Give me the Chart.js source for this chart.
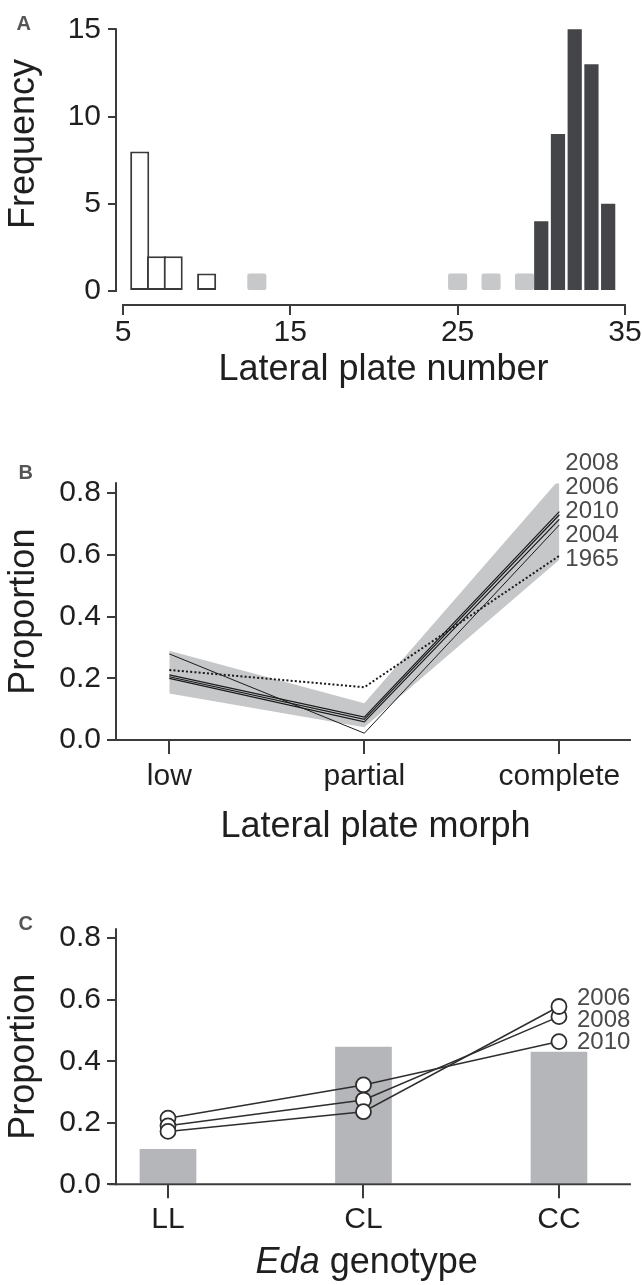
<!DOCTYPE html>
<html><head><meta charset="utf-8">
<script src="https://cdn.jsdelivr.net/npm/chart.js@4.4.1/dist/chart.umd.min.js"></script>
<style>
html,body{margin:0;padding:0;background:#fff;}
body{width:642px;height:1285px;overflow:hidden;position:relative;}
canvas{position:absolute;left:0;}
#cA{top:-25px} #cB{top:440px} #cC{top:880px}
</style></head><body>
<canvas id="cA" width="660" height="420"></canvas>
<canvas id="cB" width="660" height="420"></canvas>
<canvas id="cC" width="660" height="405"></canvas>
<script>
// ---------- Panel A : histogram of lateral plate number ----------
const plateLow = [6, 7, 8, 10];
const freqLow = [8, 2, 2, 1];
const plateMid = [13, 25, 27, 29];
const freqMid = [1, 1, 1, 1];
const plateHigh = [30, 31, 32, 33, 34];
const freqHigh = [4, 9, 15, 13, 5];
const xTicksA = [5, 15, 25, 35];
const yTicksA = [0, 5, 10, 15];

// ---------- Panel B : morph proportions by year ----------
const morphs = ['low', 'partial', 'complete'];
const yearsB = ['2008', '2006', '2010', '2004', '1965'];
const prop2008 = [0.211, 0.074, 0.740];
const prop2006 = [0.205, 0.067, 0.730];
const prop2010 = [0.200, 0.059, 0.715];
const prop2004 = [0.279, 0.022, 0.697];
const prop1965 = [0.227, 0.171, 0.597];
const bandLower = [0.151, 0.041, 0.584];
const bandUpper = [0.289, 0.119, 0.845];
const yTicksB = [0, 0.2, 0.4, 0.6, 0.8];

// ---------- Panel C : Eda genotype proportions ----------
const genotypes = ['LL', 'CL', 'CC'];
const genoBars = [0.115, 0.447, 0.431];
const geno2006 = [0.172, 0.236, 0.578];
const geno2008 = [0.190, 0.274, 0.545];
const geno2010 = [0.215, 0.323, 0.464];
const yearsC = ['2006', '2008', '2010'];
const yTicksC = [0, 0.2, 0.4, 0.6, 0.8];

const AXIS = '#3b3b3b', TXT = '#1f1f1f';
Chart.defaults.font.family = '"Liberation Sans", Arial, Helvetica, sans-serif';
Chart.defaults.color = TXT;

const xy = (xs, ys) => xs.map((x, i) => ({x: x, y: ys[i]}));
const idx = arr => arr.map((_, i) => i);

const rPlugin = {
  id: 'rstyle',
  afterDraw(chart, args, o) {
    const ctx = chart.ctx, xs = chart.scales.x, ys = chart.scales.y, ca = chart.chartArea;
    ctx.save();
    ctx.strokeStyle = AXIS; ctx.lineWidth = 2; ctx.lineCap = 'butt';
    ctx.beginPath();
    ctx.moveTo(ca.left, ys.getPixelForValue(o.yFrom) + 1);
    ctx.lineTo(ca.left, ys.getPixelForValue(o.yTo) - 1);
    ctx.stroke();
    ctx.beginPath();
    ctx.moveTo(xs.getPixelForValue(o.xFrom) - 1, ca.bottom);
    ctx.lineTo(xs.getPixelForValue(o.xTo) + 1, ca.bottom);
    ctx.stroke();
    if (o.letter) {
      ctx.fillStyle = '#555';
      ctx.font = 'bold 20px "Liberation Sans", Arial, sans-serif';
      ctx.textAlign = 'left'; ctx.textBaseline = 'middle';
      ctx.fillText(o.letter.text, o.letter.x, o.letter.y);
    }
    if (o.years) {
      const y0 = ys.getPixelForValue(o.years.yValue);
      const x0 = xs.getPixelForValue(o.years.xValue) + o.years.dx;
      ctx.fillStyle = '#4a4a4a';
      ctx.font = '24px "Liberation Sans", Arial, sans-serif';
      ctx.textAlign = 'left'; ctx.textBaseline = 'middle';
      o.years.items.forEach((t, i) => ctx.fillText(t, x0, y0 + i * o.years.step));
    }
    if (o.xTitle) {
      const f1 = 'italic 36px "Liberation Sans", Arial, sans-serif';
      const f2 = '36px "Liberation Sans", Arial, sans-serif';
      ctx.font = f1; const w1 = ctx.measureText(o.xTitle.parts[0]).width;
      ctx.font = f2; const w2 = ctx.measureText(o.xTitle.parts[1]).width;
      let x = o.xTitle.x - (w1 + w2) / 2;
      ctx.fillStyle = TXT; ctx.textAlign = 'left'; ctx.textBaseline = 'middle';
      ctx.font = f1; ctx.fillText(o.xTitle.parts[0], x, o.xTitle.y);
      ctx.font = f2; ctx.fillText(o.xTitle.parts[1], x + w1, o.xTitle.y);
    }
    ctx.restore();
  }
};

function gridOpts(tl) {
  return {display: true, drawOnChartArea: false, drawTicks: true, tickLength: tl,
          color: AXIS, lineWidth: 2, tickWidth: 2, offset: false};
}
const setTicks = vals => s => { s.ticks = vals.map(v => ({value: v})); };
const fitX = h => s => { s.height = h; s.paddingLeft = 0; s.paddingRight = 0; };
const fitY = w => s => { s.width = w; s.paddingTop = 0; s.paddingBottom = 0; };
const common = {responsive: false, animation: false, devicePixelRatio: 1, events: []};

// ---------- Chart A ----------
new Chart(document.getElementById('cA'), {
  type: 'bar',
  data: {datasets: [
    {data: xy(plateLow, freqLow), backgroundColor: '#ffffff', borderColor: '#3a3a3c', borderWidth: 2,
     borderSkipped: false, barPercentage: 1.14, categoryPercentage: 1, grouped: false},
    {data: xy(plateMid, freqMid), backgroundColor: '#c7c8ca', borderWidth: 0, borderRadius: 2,
     borderSkipped: false, barPercentage: 1.14, categoryPercentage: 1, grouped: false},
    {data: xy(plateHigh, freqHigh), backgroundColor: '#444548', borderWidth: 0,
     barPercentage: 0.85, categoryPercentage: 1, grouped: false}
  ]},
  options: Object.assign({}, common, {
    layout: {padding: {top: 8, right: 9, bottom: 0, left: 0}},
    plugins: {legend: {display: false}, tooltip: {enabled: false},
      rstyle: {yFrom: 0, yTo: 15, xFrom: 5, xTo: 35, letter: {text: 'A', x: 16.5, y: 49.8}}},
    scales: {
      x: {type: 'linear', min: 4.582, max: 36.56, offset: false,
          afterBuildTicks: setTicks(xTicksA), afterFit: fitX(90),
          grid: gridOpts(10), border: {display: false},
          ticks: {font: {size: 30}, color: TXT, padding: 0, maxRotation: 0, autoSkip: false},
          title: {display: true, text: 'Lateral plate number', color: TXT,
                  font: {size: 36, lineHeight: 1}, padding: {top: 0, bottom: 6.5}}},
      y: {type: 'linear', min: -0.8, max: 17.65,
          afterBuildTicks: setTicks(yTicksA), afterFit: fitY(116),
          grid: gridOpts(8), border: {display: false},
          ticks: {font: {size: 30}, color: TXT, padding: 7, autoSkip: false},
          title: {display: true, text: 'Frequency', color: TXT,
                  font: {size: 36, lineHeight: 1}, padding: {top: 6.5, bottom: 0}}}
    }
  }),
  plugins: [rPlugin]
});

// ---------- Chart B ----------
const lineB = (label, vals, extra) => Object.assign({label: label, data: xy(idx(morphs), vals),
  borderColor: '#1a1a1a', borderWidth: 1.2, pointRadius: 0, fill: false, order: 1}, extra || {});
new Chart(document.getElementById('cB'), {
  type: 'line',
  data: {datasets: [
    lineB('2008', prop2008),
    lineB('2006', prop2006),
    lineB('2010', prop2010),
    lineB('2004', prop2004, {borderWidth: 1}),
    lineB('1965', prop1965, {borderWidth: 2, borderDash: [2, 2.2]}),
    {label: 'lower', data: xy(idx(morphs), bandLower), borderWidth: 0, pointRadius: 0, fill: false, order: 5},
    {label: 'upper', data: xy(idx(morphs), bandUpper), borderWidth: 0, pointRadius: 0,
     fill: '-1', backgroundColor: '#c6c7c9', order: 5}
  ]},
  options: Object.assign({}, common, {
    layout: {padding: {top: 43.3, right: 25, bottom: 0, left: 0}},
    plugins: {legend: {display: false}, tooltip: {enabled: false},
      rstyle: {yFrom: 0, yTo: 0.832, xFrom: -0.304, xTo: 2.362, letter: {text: 'B', x: 18.4, y: 33},
               years: {items: yearsB, xValue: 2, dx: 6, yValue: 0.898, step: 24.2}}},
    scales: {
      x: {type: 'linear', min: -0.2733, max: 2.388, offset: false,
          afterBuildTicks: setTicks(idx(morphs)), afterFit: fitX(120),
          grid: gridOpts(14), border: {display: false},
          ticks: {font: {size: 30}, color: TXT, padding: 5, maxRotation: 0, autoSkip: false,
                  callback: v => morphs[v]},
          title: {display: true, text: 'Lateral plate morph', color: TXT,
                  font: {size: 36, lineHeight: 1}, padding: {top: 0, bottom: 14.5}}},
      y: {type: 'linear', min: 0, max: 0.832,
          afterBuildTicks: setTicks(yTicksB), afterFit: fitY(116),
          grid: gridOpts(9), border: {display: false},
          ticks: {font: {size: 30}, color: TXT, padding: 6, autoSkip: false, callback: v => v.toFixed(1)},
          title: {display: true, text: 'Proportion', color: TXT,
                  font: {size: 36, lineHeight: 1}, padding: {top: 6.5, bottom: 0}}}
    }
  }),
  plugins: [rPlugin]
});

// ---------- Chart C ----------
const lineC = (label, vals) => ({type: 'line', label: label, data: xy(idx(genotypes), vals),
  borderColor: '#2e2e2e', borderWidth: 1.5, pointRadius: 7.5, pointBackgroundColor: '#ffffff',
  pointBorderColor: '#2e2e2e', pointBorderWidth: 1.8, fill: false, order: 1});
new Chart(document.getElementById('cC'), {
  type: 'bar',
  data: {datasets: [
    lineC('2006', geno2006),
    lineC('2008', geno2008),
    lineC('2010', geno2010),
    {type: 'bar', label: 'expected', data: xy(idx(genotypes), genoBars), backgroundColor: '#b5b6b9',
     borderWidth: 0, barPercentage: 0.29, categoryPercentage: 1, grouped: false, order: 5}
  ]},
  options: Object.assign({}, common, {
    layout: {padding: {top: 49.3, right: 25, bottom: 0, left: 0}},
    plugins: {legend: {display: false}, tooltip: {enabled: false},
      rstyle: {yFrom: 0, yTo: 0.829, xFrom: -0.297, xTo: 2.363, letter: {text: 'C', x: 18.4, y: 44},
               years: {items: yearsC, xValue: 2, dx: 18, yValue: 0.603, step: 21.75},
               xTitle: {parts: ['Eda', ' genotype'], x: 366.7, y: 383}}},
    scales: {
      x: {type: 'linear', min: -0.266, max: 2.389, offset: false,
          afterBuildTicks: setTicks(idx(genotypes)), afterFit: fitX(100.7),
          grid: gridOpts(14), border: {display: false},
          ticks: {font: {size: 30}, color: TXT, padding: 3.3, maxRotation: 0, autoSkip: false,
                  callback: v => genotypes[v]}},
      y: {type: 'linear', min: 0, max: 0.829,
          afterBuildTicks: setTicks(yTicksC), afterFit: fitY(116),
          grid: gridOpts(9), border: {display: false},
          ticks: {font: {size: 30}, color: TXT, padding: 6, autoSkip: false, callback: v => v.toFixed(1)},
          title: {display: true, text: 'Proportion', color: TXT,
                  font: {size: 36, lineHeight: 1}, padding: {top: 6.5, bottom: 0}}}
    }
  }),
  plugins: [rPlugin]
});
</script>
</body></html>
